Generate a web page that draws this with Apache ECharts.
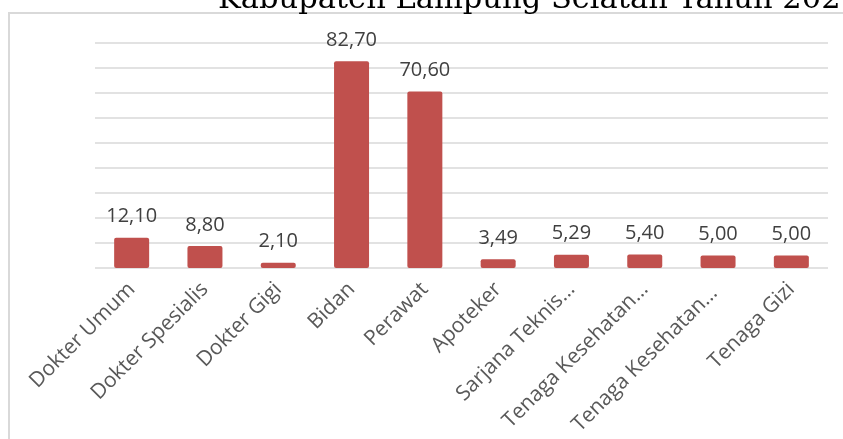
<!DOCTYPE html>
<html>
<head>
<meta charset="utf-8">
<script src="https://cdn.jsdelivr.net/npm/echarts@6/dist/echarts.min.js"></script>
<style>
html,body{margin:0;padding:0;background:#fff;}
#chart{width:843px;height:439px;}
</style>
</head>
<body>
<div id="chart"></div>
<script>
var titleText = 'Kabupaten Lampung Selatan Tahun 202';
var categories = ['Dokter Umum','Dokter Spesialis','Dokter Gigi','Bidan','Perawat','Apoteker','Sarjana Teknis…','Tenaga Kesehatan…','Tenaga Kesehatan… ','Tenaga Gizi'];
var values = [12.10, 8.80, 2.10, 82.70, 70.60, 3.49, 5.29, 5.40, 5.00, 5.00];
var yMin = 0, yMax = 90, yInterval = 10;

var chart = echarts.init(document.getElementById('chart'), null, {renderer:'canvas'});
chart.setOption({
  animation: false,
  backgroundColor: '#ffffff',
  graphic: [
    {type:'rect', z: -10, shape:{x:9, y:13, width:900, height:500}, style:{fill:'none', stroke:'#d9d9d9', lineWidth:2}},
    {type:'text', x: 218, y: 16, style:{text: titleText, font: '30.5px "DejaVu Serif"', fill:'#000000', textAlign:'left', textVerticalAlign:'bottom', verticalAlign:'bottom'}}
  ],
  grid: {left: 95, right: 15, top: 43, bottom: 171, containLabel: false, outerBoundsMode: 'none'},
  xAxis: {
    type: 'category',
    data: categories,
    axisLine: {show: false},
    axisTick: {show: false},
    axisLabel: {rotate: 45, margin: 18, color: '#595959', fontFamily: 'Open Sans', fontSize: 21, interval: 0}
  },
  yAxis: {
    type: 'value', min: yMin, max: yMax, interval: yInterval,
    axisLabel: {show: false},
    axisLine: {show: false},
    axisTick: {show: false},
    splitLine: {show: true, lineStyle: {color: '#d9d9d9', width: 1.5}}
  },
  series: [{
    type: 'bar',
    data: values,
    barWidth: 35,
    itemStyle: {color: '#c0504d', borderRadius: 2},
    label: {
      show: true, position: 'top', distance: 11,
      color: '#404040', fontFamily: 'Open Sans', fontSize: 20,
      formatter: function(p){ return p.value.toFixed(2).replace('.', ','); }
    }
  }]
});
</script>
</body>
</html>
